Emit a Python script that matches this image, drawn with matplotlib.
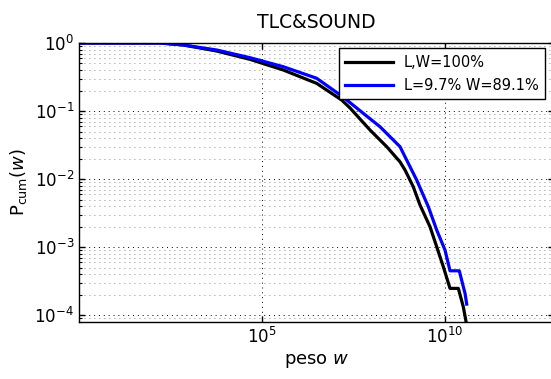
import matplotlib
matplotlib.use("Agg")
import matplotlib.pyplot as plt
from matplotlib.ticker import LogLocator, NullLocator, FixedLocator

# Cumulative weight distributions (log-log)
w_all = [1, 1.7e2, 7.26e2, 5.92e3, 4.80e4, 3.88e5, 3.16e6, 1.52e7, 2.56e7, 9.0e7,
         2.57e8, 5.92e8, 8.11e8, 1.36e9, 2.08e9, 3.90e9, 5.94e9, 9.0e9, 1.37e10,
         2.31e10, 3.16e10, 3.91e10]
p_all = [1, 1, 0.935, 0.762, 0.575, 0.401, 0.255, 0.145, 0.111, 5.26e-2,
         2.99e-2, 1.79e-2, 1.36e-2, 7.71e-3, 4.15e-3, 1.99e-3, 1.01e-3, 5.13e-4,
         2.47e-4, 2.47e-4, 1.32e-4, 7.1e-5]

w_sub = [1, 1.7e2, 7.26e2, 5.92e3, 4.80e4, 3.88e5, 3.16e6, 1.60e7, 5.90e7, 1.69e8,
         5.92e8, 9.02e8, 1.69e9, 3.51e9, 5.94e9, 1.0e10, 1.37e10, 2.45e10, 3.52e10,
         3.91e10]
p_sub = [1, 1, 0.935, 0.789, 0.608, 0.448, 0.303, 0.163, 9.25e-2, 5.87e-2,
         2.99e-2, 1.90e-2, 9.66e-3, 3.92e-3, 1.78e-3, 9.04e-4, 4.48e-4, 4.48e-4,
         2.08e-4, 1.45e-4]

x_ticks = [1e0, 1e5, 1e10]
labels = ["L,W=100%", "L=9.7% W=89.1%"]
title = "TLC&SOUND"

plt.rcParams.update({
    "font.family": "DejaVu Sans",
    "mathtext.default": "regular",
    "xtick.direction": "in",
    "ytick.direction": "in",
    "xtick.top": True,
    "ytick.right": True,
    "axes.linewidth": 1.0,
})

W, H = 551, 379
fig = plt.figure(figsize=(W / 100, H / 100), dpi=100)
left, right, top, bottom = 79, 553.75, 43, 321.7
ax = fig.add_axes([left / W, 1 - bottom / H, (right - left) / W, (bottom - top) / H])

ax.plot(w_all, p_all, color="black", lw=2.3, label=labels[0])
ax.plot(w_sub, p_sub, color="blue", lw=2.3, label=labels[1])

ax.set_xscale("log")
ax.set_yscale("log")
ax.set_xlim(10 ** 0.017, 10 ** 12.966)
ax.set_ylim(8e-5, 1.0)

ax.xaxis.set_major_locator(FixedLocator(x_ticks))
ax.xaxis.set_minor_locator(NullLocator())
ax.yaxis.set_major_locator(LogLocator(base=10, numticks=10))
ax.yaxis.set_minor_locator(LogLocator(base=10, subs=range(2, 10), numticks=20))

ax.tick_params(which="major", length=4, width=1, labelsize=12)
ax.tick_params(which="minor", length=2, width=0.8)

ax.grid(True, which="major", linestyle=(0, (1, 4)), color="black", linewidth=0.7)
ax.grid(True, which="minor", axis="y", linestyle=(0, (1, 5)), color="0.4", linewidth=0.6)

ax.set_title(title, fontsize=13.5, pad=11)
ax.set_xlabel(r"peso $\it{w}$", fontsize=13)
ax.set_ylabel(r"P$_{\rm cum}$($\it{w}$)", fontsize=13)

leg = ax.legend(loc="upper right",
                bbox_to_anchor=((545 - left) / (right - left), (bottom - 48.3) / (bottom - top)),
                borderaxespad=0, fontsize=10.5, fancybox=False, framealpha=1,
                edgecolor="black", handlelength=3.3, handletextpad=0.7,
                labelspacing=0.55, borderpad=0.45)
leg.get_frame().set_linewidth(1.0)

fig.savefig("out.png", dpi=100)
